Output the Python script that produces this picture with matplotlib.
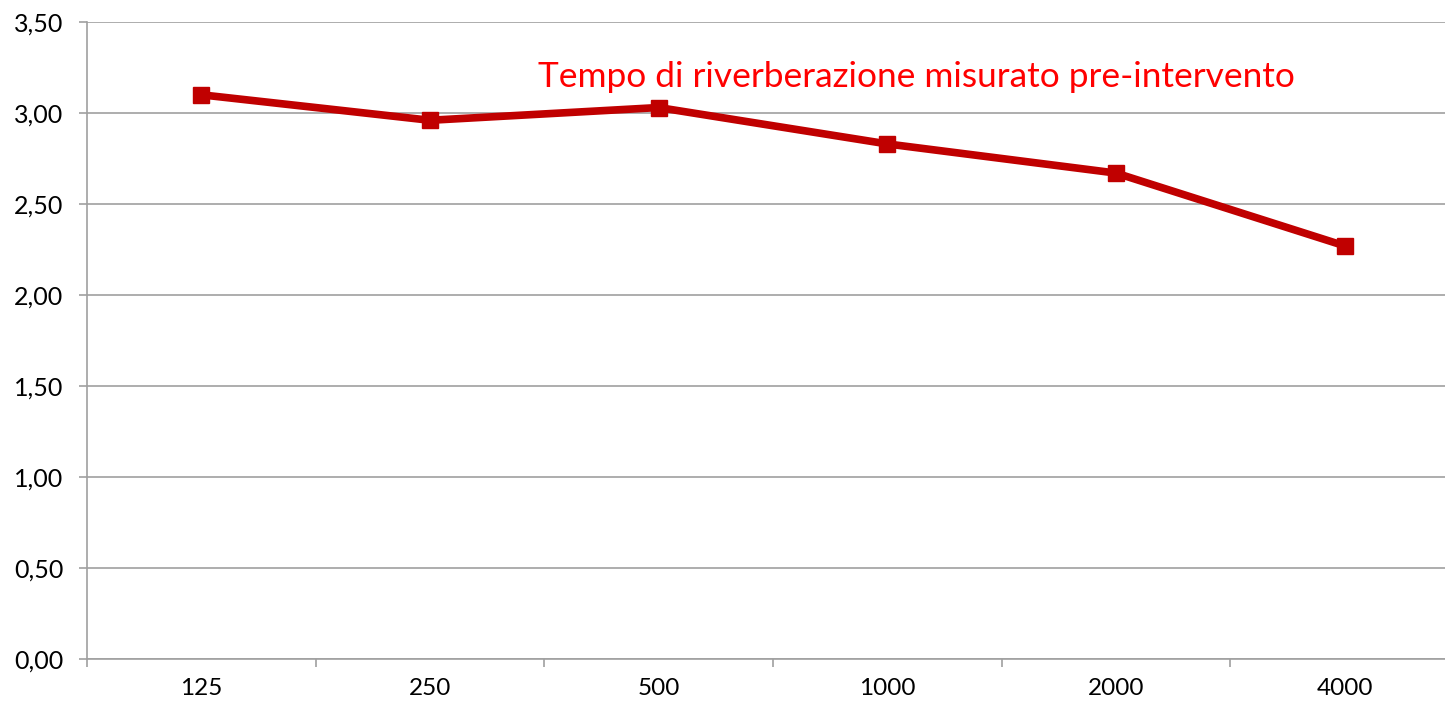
import matplotlib.pyplot as plt

plt.rcParams['font.family'] = ['Lato', 'DejaVu Sans']

frequenze = ['125', '250', '500', '1000', '2000', '4000']
tempo_riv = [3.10, 2.96, 3.03, 2.83, 2.67, 2.27]
y_ticks = [0.0, 0.5, 1.0, 1.5, 2.0, 2.5, 3.0, 3.5]

fig = plt.figure(figsize=(14.45, 7.05), dpi=100)
# l'area del grafico prosegue oltre il bordo destro dell'immagine
ax = fig.add_axes([87 / 1445, 46 / 705, 1372 / 1445, 637 / 705])

x = list(range(len(frequenze)))
ax.plot(x, tempo_riv, color='#C00000', linewidth=5.5, marker='s', markersize=11, zorder=3, clip_on=False)

ax.set_xlim(-0.5, len(frequenze) - 0.5)
ax.set_ylim(0, 3.5)
ax.set_yticks(y_ticks)
ax.set_yticklabels([f'{v:.2f}'.replace('.', ',') for v in y_ticks])
ax.grid(axis='y', color='#A0A0A0', linewidth=1.2)
ax.set_axisbelow(True)

# etichette al centro, tacche sui bordi delle categorie
ax.set_xticks([i - 0.5 for i in range(len(frequenze) + 1)])
ax.set_xticklabels([])
ax.set_xticks(x, minor=True)
ax.set_xticklabels(frequenze, minor=True)
ax.tick_params(axis='x', which='major', length=6, color='#A0A0A0', width=1.2)
ax.tick_params(axis='x', which='minor', length=0, labelsize=17.5, pad=14)
ax.tick_params(axis='y', length=6, color='#A0A0A0', width=1.2, labelsize=18, pad=11)

for s in ['top', 'right']:
    ax.spines[s].set_visible(False)
for s in ['left', 'bottom']:
    ax.spines[s].set_color('#A0A0A0')
    ax.spines[s].set_linewidth(1.2)

ax.text(1.474, 3.2, 'Tempo di riverberazione misurato pre-intervento', color='#FF0000',
        fontsize=25.4, ha='left', va='center')

fig.savefig('out.png', dpi=100)
